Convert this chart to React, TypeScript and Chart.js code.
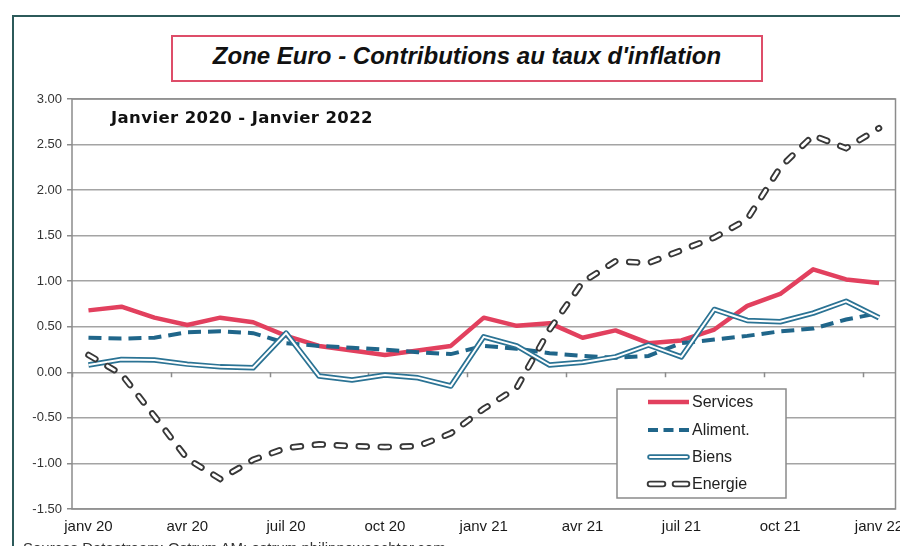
import React, { useEffect, useRef } from 'react';
import { Chart, registerables } from 'chart.js';

Chart.register(...registerables);

const months = [
  'janv 20', 'févr 20', 'mars 20', 'avr 20', 'mai 20', 'juin 20', 'juil 20', 'août 20', 'sept 20', 'oct 20', 'nov 20', 'déc 20',
  'janv 21', 'févr 21', 'mars 21', 'avr 21', 'mai 21', 'juin 21', 'juil 21', 'août 21', 'sept 21', 'oct 21', 'nov 21', 'déc 21',
  'janv 22',
];
const tickEvery = 3;

const services = [0.68, 0.72, 0.60, 0.52, 0.60, 0.55, 0.40, 0.29, 0.24, 0.19, 0.24, 0.29, 0.60, 0.51, 0.54, 0.38, 0.46, 0.32, 0.35, 0.47, 0.73, 0.86, 1.13, 1.02, 0.98];
const aliment = [0.38, 0.37, 0.38, 0.44, 0.45, 0.43, 0.32, 0.29, 0.27, 0.25, 0.22, 0.20, 0.29, 0.26, 0.21, 0.18, 0.16, 0.18, 0.32, 0.36, 0.40, 0.45, 0.48, 0.58, 0.65];
const biens = [0.08, 0.14, 0.135, 0.09, 0.06, 0.05, 0.43, -0.04, -0.085, -0.03, -0.06, -0.15, 0.39, 0.29, 0.08, 0.11, 0.17, 0.30, 0.17, 0.69, 0.57, 0.555, 0.65, 0.78, 0.60];
const energie = [0.19, -0.02, -0.48, -0.95, -1.17, -0.96, -0.83, -0.79, -0.81, -0.82, -0.81, -0.67, -0.40, -0.17, 0.47, 0.99, 1.22, 1.20, 1.34, 1.48, 1.68, 2.25, 2.60, 2.46, 2.68];

const legendLabels = ['Services', 'Aliment.', 'Biens', 'Energie'];
const titleText = "Zone Euro - Contributions au taux d'inflation";
const subtitleText = 'Janvier 2020 - Janvier 2022';
const sourceText = 'Sources Datastream; Ostrum AM; ostrum.philippewaechter.com';

const RED = '#e2405e';
const TEAL = '#20668a';
const BIENS = '#2b7394';
const DARK = '#383838';
const SANS = '"Liberation Sans", Arial, sans-serif';

const decorPlugin = {
  id: 'decor',
  beforeDatasetsDraw(chart: any) {
    const { ctx, chartArea: a, scales } = chart;
    ctx.save();
    ctx.strokeStyle = '#8c8c8c';
    ctx.lineWidth = 1.5;
    ctx.strokeRect(a.left, a.top, a.right - a.left, a.bottom - a.top);
    const xs = scales.x;
    const y0 = scales.y.getPixelForValue(0);
    const catW = xs.getPixelForValue(1) - xs.getPixelForValue(0);
    ctx.beginPath();
    for (let i = 0; i < months.length; i += tickEvery) {
      const x = Math.round(xs.getPixelForValue(i) - catW / 2) + 0.5;
      ctx.moveTo(x, y0);
      ctx.lineTo(x, y0 + 5);
    }
    ctx.stroke();
    ctx.restore();
  },
  afterDatasetsDraw(chart: any) {
    const { ctx } = chart;
    ctx.save();
    // subtitle
    ctx.font = 'bold 16.5px "DejaVu Sans", Verdana, sans-serif';
    (ctx as any).letterSpacing = '0.4px';
    ctx.fillStyle = '#111';
    ctx.textBaseline = 'alphabetic';
    ctx.textAlign = 'left';
    ctx.fillText(subtitleText, 111, 123);
    (ctx as any).letterSpacing = '0px';

    // legend
    const bx = 617, by = 389, bw = 169, bh = 109;
    ctx.fillStyle = '#fff';
    ctx.fillRect(bx, by, bw, bh);
    ctx.strokeStyle = '#8a8a8a';
    ctx.lineWidth = 1.5;
    ctx.strokeRect(bx, by, bw, bh);
    const rows = [402, 430, 457, 484];
    const x1 = 648, x2 = 689;
    const seg = (xa: number, xb: number, y: number, color: string, w: number, cap: CanvasLineCap, dash: number[]) => {
      ctx.beginPath();
      ctx.setLineDash(dash);
      ctx.lineCap = cap;
      ctx.strokeStyle = color;
      ctx.lineWidth = w;
      ctx.moveTo(xa, y);
      ctx.lineTo(xb, y);
      ctx.stroke();
      ctx.setLineDash([]);
    };
    seg(x1, x2, rows[0], RED, 4.5, 'butt', []);
    seg(x1, x2, rows[1], TEAL, 4, 'butt', [10, 5.5]);
    seg(x1 + 2, x2 - 2, rows[2], BIENS, 5.5, 'round', []);
    seg(x1 + 2, x2 - 2, rows[2], '#fff', 2, 'round', []);
    seg(x1 + 2, x1 + 15, rows[3], DARK, 6.5, 'round', []);
    seg(x1 + 27, x2 - 2, rows[3], DARK, 6.5, 'round', []);
    seg(x1 + 2, x1 + 15, rows[3], '#fff', 2.8, 'round', []);
    seg(x1 + 27, x2 - 2, rows[3], '#fff', 2.8, 'round', []);
    ctx.font = '16px ' + SANS;
    ctx.fillStyle = '#222';
    ctx.textBaseline = 'middle';
    legendLabels.forEach((t, i) => ctx.fillText(t, 692, rows[i] + 1));
    ctx.restore();
  },
};

export default function App() {
  const ref = useRef<HTMLCanvasElement>(null);
  useEffect(() => {
    const canvas = ref.current!;
    const chart = new Chart(canvas, {
      type: 'line',
      data: {
        labels: months,
        datasets: [
          { label: 'Services', data: services, borderColor: RED, borderWidth: 4.5, pointRadius: 0, tension: 0, order: 6, borderJoinStyle: 'round' },
          { label: 'Aliment.', data: aliment, borderColor: TEAL, borderWidth: 4, borderDash: [13, 7], pointRadius: 0, order: 5 },
          { label: 'Biens', data: biens, borderColor: BIENS, borderWidth: 5.5, pointRadius: 0, order: 4, borderJoinStyle: 'round' },
          { label: 'Biens-inner', data: biens, borderColor: '#ffffff', borderWidth: 2, pointRadius: 0, order: 3 },
          { label: 'Energie', data: energie, borderColor: DARK, borderWidth: 6.5, borderDash: [8, 14], borderCapStyle: 'round', pointRadius: 0, order: 2 },
          { label: 'Energie-inner', data: energie, borderColor: '#ffffff', borderWidth: 2.8, borderDash: [8, 14], borderCapStyle: 'round', pointRadius: 0, order: 1 },
        ] as any,
      },
      options: {
        animation: false,
        responsive: false,
        devicePixelRatio: 1,
        layout: { padding: { top: 99, right: 4.5, bottom: 0, left: 0 } },
        plugins: { legend: { display: false }, tooltip: { enabled: false }, title: { display: false } },
        events: [],
        scales: {
          x: {
            type: 'category',
            offset: true,
            grid: { display: false, drawTicks: false },
            border: { display: false },
            ticks: {
              autoSkip: false,
              maxRotation: 0,
              minRotation: 0,
              padding: 9,
              color: '#1a1a1a',
              font: { family: SANS, size: 15 },
              callback: (_v: any, i: number) => (i % tickEvery === 0 ? months[i] : ''),
            },
            afterFit: (s: any) => { s.height = 37; s.paddingLeft = 0; s.paddingRight = 0; },
          },
          y: {
            min: -1.5,
            max: 3,
            ticks: {
              stepSize: 0.5,
              padding: 5,
              color: '#333',
              font: { family: SANS, size: 13 },
              callback: (v: any) => Number(v).toFixed(2),
            },
            grid: { color: '#a4a4a4', lineWidth: 1.5, tickLength: 5, tickColor: '#8c8c8c' },
            border: { display: false },
            afterFit: (s: any) => { s.width = 72; s.paddingTop = 0; s.paddingBottom = 0; },
          },
        },
      } as any,
      plugins: [decorPlugin],
    });
    return () => chart.destroy();
  }, []);

  return (
    <div style={{ position: 'absolute', left: 0, top: 0, width: 900, height: 546, overflow: 'hidden', background: '#fff' }}>
      <div style={{ position: 'absolute', left: 12, top: 15, width: 940, height: 600, border: '2px solid #2c5a5a', boxSizing: 'border-box' }} />
      <div style={{ position: 'absolute', left: 171, top: 35, width: 592, height: 47, border: '2px solid #de4d69', boxSizing: 'border-box' }} />
      <div style={{ position: 'absolute', left: 171, top: 44, width: 592, textAlign: 'center', font: `italic bold 24px ${SANS}`, lineHeight: '24px', color: '#111', whiteSpace: 'nowrap' }}>
        {titleText}
      </div>
      <canvas ref={ref} width={900} height={546} style={{ position: 'absolute', left: 0, top: 0, width: 900, height: 546 }} />
      <div style={{ position: 'absolute', left: 23, top: 540, font: `15px ${SANS}`, lineHeight: '15px', color: '#333', whiteSpace: 'nowrap' }}>
        {sourceText}
      </div>
    </div>
  );
}
